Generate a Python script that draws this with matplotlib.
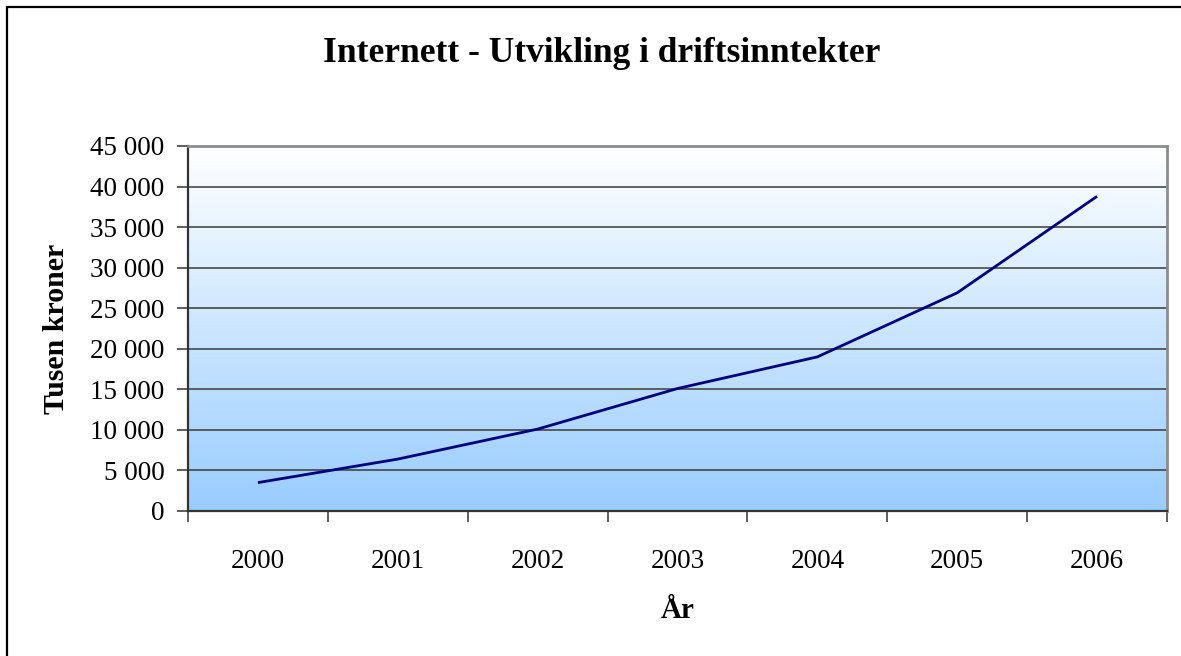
"""Internett - utvikling i driftsinntekter, Excel-style line chart."""
import matplotlib
matplotlib.use("Agg")
import matplotlib.pyplot as plt
import matplotlib.patches as mpatches
from matplotlib.colors import LinearSegmentedColormap
from matplotlib.ticker import FuncFormatter, FixedLocator
import numpy as np

years = ["2000", "2001", "2002", "2003", "2004", "2005", "2006"]
revenue = [3500, 6400, 10100, 15100, 19000, 26900, 38800]
y_ticks = [0, 5000, 10000, 15000, 20000, 25000, 30000, 35000, 40000, 45000]

plt.rcParams.update({
    "font.family": ["Liberation Serif", "DejaVu Serif"],
})

W, H = 1181, 656
fig = plt.figure(figsize=(W / 100, H / 100), dpi=100)
ax = fig.add_axes([188 / W, 1 - 511 / H, (1167 - 188) / W, (511 - 146) / H])

# outer chart border (right and bottom fall outside the picture)
fig.patches.append(mpatches.Rectangle((7 / W, -0.05), 1.2, 1 - 7 / H + 0.05,
                                      transform=fig.transFigure, fill=False,
                                      ec="black", lw=1.6, zorder=10))

x = np.arange(len(years))
ax.set_xlim(-0.5, len(years) - 0.5)
ax.set_ylim(0, 45000)

# gradient plot area: white at top, light blue at bottom
cmap = LinearSegmentedColormap.from_list("bg", ["#99ccff", "#ffffff"])
grad = np.linspace(0, 1, 256).reshape(-1, 1)
ax.imshow(grad, cmap=cmap, aspect="auto", origin="lower",
          extent=[-0.5, len(years) - 0.5, 0, 45000], zorder=0)

ax.set_yticks(y_ticks)
ax.yaxis.set_major_formatter(FuncFormatter(lambda v, p: f"{int(v):,}".replace(",", " ")))
ax.grid(True, axis="y", color="#3a3a3a", linewidth=1.1, zorder=1)

ax.plot(x, revenue, color="#000080", linewidth=2.0, zorder=3, solid_capstyle="butt")

ax.set_xticks(x)
ax.set_xticklabels(years)
ax.xaxis.set_minor_locator(FixedLocator(np.arange(-0.5, len(years), 1.0)))
ax.tick_params(axis="x", which="major", length=0, pad=27, labelsize=19.5)
ax.tick_params(axis="x", which="minor", length=8, width=1.1, color="#333333", direction="out")
ax.tick_params(axis="y", length=8, width=1.1, color="#333333", direction="out", pad=9, labelsize=19.5)

for side in ("left", "bottom"):
    ax.spines[side].set_color("#333333")
    ax.spines[side].set_linewidth(1.6)
for side in ("top", "right"):
    ax.spines[side].set_color("#8c8c8c")
    ax.spines[side].set_linewidth(2.0)

ax.set_ylabel("Tusen kroner", fontsize=21.5, fontweight="bold")
ax.yaxis.set_label_coords((57 - 188) / (1167 - 188), 0.5)
ax.set_xlabel("År", fontsize=21, fontweight="bold")
ax.xaxis.set_label_coords(0.5, -(611 - 511) / (511 - 146))
ax.xaxis.label.set_va("center")
ax.yaxis.label.set_va("center")
fig.text(602 / W, 1 - 54 / H, "Internett - Utvikling i driftsinntekter",
         ha="center", va="center", fontsize=25.5, fontweight="bold")

fig.savefig("out.png", dpi=100)
